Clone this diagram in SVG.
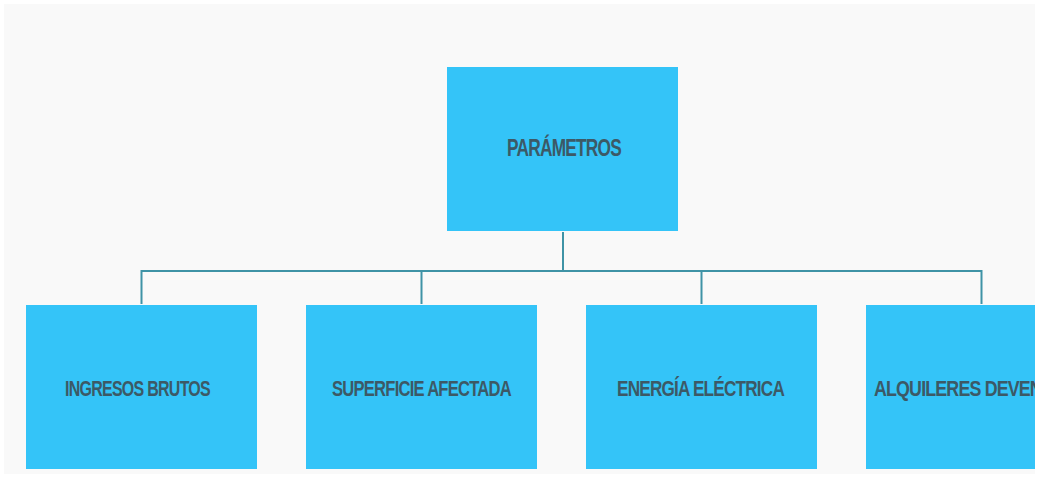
<svg xmlns="http://www.w3.org/2000/svg" width="1041" height="479" viewBox="0 0 1041 479">
<style>
.box{fill:#34c4f8}
.lbl{font-family:"Liberation Sans Narrow","Liberation Sans",Arial,sans-serif;font-weight:bold;fill:#3c5966;text-anchor:start;letter-spacing:-1px}
.ln{stroke:#3f93a6;stroke-width:2;fill:none}
</style>
<defs>
<clipPath id="cp"><rect x="0" y="0" width="1035" height="479"/></clipPath>
</defs>
<rect x="0" y="0" width="1041" height="479" fill="#ffffff"/>
<rect x="4" y="4" width="1031" height="470" fill="#f9f9f9"/>
<g id="connectors">
<line class="ln" x1="563" y1="232" x2="563" y2="271"/>
<line class="ln" x1="141" y1="271" x2="982" y2="271"/>
<line class="ln" x1="141.5" y1="270" x2="141.5" y2="304"/>
<line class="ln" x1="421.5" y1="270" x2="421.5" y2="304"/>
<line class="ln" x1="701.5" y1="270" x2="701.5" y2="304"/>
<line class="ln" x1="981.5" y1="270" x2="981.5" y2="304"/>
</g>
<g id="node-parametros">
<rect class="box" x="447" y="67" width="231" height="164"/>
<text class="lbl" x="507" y="156" font-size="23" textLength="114" lengthAdjust="spacingAndGlyphs">PARÁMETROS</text>
</g>
<g id="node-ingresos">
<rect class="box" x="26" y="305" width="231" height="164"/>
<text class="lbl" x="65" y="396" font-size="22" textLength="145" lengthAdjust="spacingAndGlyphs">INGRESOS BRUTOS</text>
</g>
<g id="node-superficie">
<rect class="box" x="306" y="305" width="231" height="164"/>
<text class="lbl" x="332" y="396" font-size="22" textLength="179" lengthAdjust="spacingAndGlyphs">SUPERFICIE AFECTADA</text>
</g>
<g id="node-energia">
<rect class="box" x="586" y="305" width="231" height="164"/>
<text class="lbl" x="617" y="396" font-size="22" textLength="167" lengthAdjust="spacingAndGlyphs">ENERGÍA ELÉCTRICA</text>
</g>
<g id="node-alquileres" clip-path="url(#cp)">
<rect class="box" x="866" y="305" width="175" height="164"/>
<text class="lbl" x="874" y="396" font-size="22" textLength="229" lengthAdjust="spacingAndGlyphs">ALQUILERES DEVENGADOS</text>
</g>
</svg>
